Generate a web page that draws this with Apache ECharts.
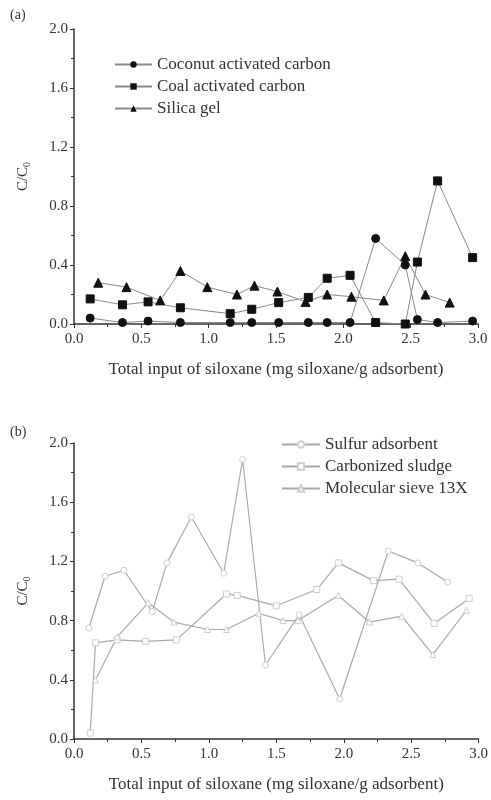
<!DOCTYPE html>
<html>
<head>
<meta charset="utf-8">
<script src="https://cdn.jsdelivr.net/npm/echarts@6/dist/echarts.min.js"></script>
<style>
  html, body { margin: 0; padding: 0; background: #fff; }
  #chart { width: 491px; height: 800px; }
</style>
</head>
<body>
<div id="chart"></div>
<script>
// panel (a)
const coconutX = [0.12, 0.36, 0.55, 0.79, 1.16, 1.32, 1.52, 1.74, 1.88, 2.05, 2.24, 2.46, 2.55, 2.70, 2.96];
const coconutY = [0.04, 0.01, 0.02, 0.01, 0.01, 0.01, 0.01, 0.01, 0.01, 0.01, 0.58, 0.40, 0.03, 0.01, 0.02];
const coalX = [0.12, 0.36, 0.55, 0.79, 1.16, 1.32, 1.52, 1.74, 1.88, 2.05, 2.24, 2.46, 2.55, 2.70, 2.96];
const coalY = [0.17, 0.13, 0.15, 0.11, 0.07, 0.10, 0.145, 0.18, 0.31, 0.33, 0.01, 0.0, 0.42, 0.97, 0.45];
const silicaX = [0.18, 0.39, 0.64, 0.79, 0.99, 1.21, 1.34, 1.51, 1.72, 1.88, 2.06, 2.30, 2.46, 2.61, 2.79];
const silicaY = [0.28, 0.25, 0.16, 0.36, 0.25, 0.20, 0.26, 0.22, 0.15, 0.20, 0.185, 0.16, 0.46, 0.20, 0.145];

// panel (b)
const sulfurX = [0.11, 0.23, 0.37, 0.58, 0.69, 0.87, 1.11, 1.25, 1.42, 1.67, 1.97, 2.33, 2.55, 2.77];
const sulfurY = [0.75, 1.10, 1.14, 0.86, 1.19, 1.50, 1.12, 1.89, 0.50, 0.84, 0.27, 1.27, 1.19, 1.06];
const sludgeX = [0.12, 0.16, 0.32, 0.53, 0.76, 1.13, 1.21, 1.50, 1.80, 1.96, 2.22, 2.41, 2.67, 2.93];
const sludgeY = [0.04, 0.65, 0.67, 0.66, 0.67, 0.98, 0.97, 0.90, 1.01, 1.19, 1.07, 1.08, 0.78, 0.95];
const sieveX = [0.16, 0.32, 0.55, 0.74, 0.99, 1.13, 1.37, 1.55, 1.66, 1.96, 2.19, 2.43, 2.66, 2.91];
const sieveY = [0.40, 0.69, 0.92, 0.79, 0.74, 0.74, 0.85, 0.80, 0.80, 0.97, 0.79, 0.83, 0.57, 0.87];

const namesA = ['Coconut activated carbon', 'Coal activated carbon', 'Silica gel'];
const namesB = ['Sulfur adsorbent', 'Carbonized sludge', 'Molecular sieve 13X'];
const xTitle = 'Total input of siloxane (mg siloxane/g adsorbent)';

const FONT = 'Liberation Serif';
const myChart = echarts.init(document.getElementById('chart'));

function pairs(xs, ys) {
  return xs.map((x, i) => [x, ys[i]]);
}

function makeX(gridIndex) {
  return {
    type: 'value', gridIndex: gridIndex, min: 0, max: 3, interval: 0.5,
    name: xTitle, nameLocation: 'middle', nameGap: 37,
    nameTextStyle: { fontFamily: FONT, fontSize: 17, color: '#333' },
    axisLine: { lineStyle: { color: '#333', width: 1.5 } },
    axisTick: { length: 4, lineStyle: { color: '#333' } },
    minorTick: { show: true, splitNumber: 2, length: 3, lineStyle: { color: '#333' } },
    axisLabel: { fontFamily: FONT, fontSize: 15, color: '#333', margin: 8, formatter: v => v.toFixed(1) },
    splitLine: { show: false }
  };
}

function makeY(gridIndex) {
  return {
    type: 'value', gridIndex: gridIndex, min: 0, max: 2, interval: 0.4,
    name: '{c|C/C}{s|0}', nameLocation: 'middle', nameGap: 42, nameRotate: 90,
    nameTextStyle: {
      rich: {
        c: { fontFamily: FONT, fontSize: 15, color: '#333' },
        s: { fontFamily: FONT, fontSize: 10, color: '#333', verticalAlign: 'bottom', padding: [7, 0, 0, 0] }
      }
    },
    axisLine: { show: true, lineStyle: { color: '#333', width: 1.5 } },
    axisTick: { length: 4, lineStyle: { color: '#333' } },
    minorTick: { show: true, splitNumber: 2, length: 3, lineStyle: { color: '#333' } },
    axisLabel: { fontFamily: FONT, fontSize: 15, color: '#333', margin: 6, formatter: v => v.toFixed(1) },
    splitLine: { show: false }
  };
}

function seriesA(name, xs, ys, symbol) {
  return {
    name: name, type: 'line', xAxisIndex: 0, yAxisIndex: 0,
    data: pairs(xs, ys), symbol: symbol, symbolSize: symbol === 'triangle' ? 9 : 8,
    lineStyle: { color: '#8a8a8a', width: 1 },
    itemStyle: { color: '#111', borderColor: '#111' }
  };
}

function seriesB(name, xs, ys, symbol) {
  return {
    name: name, type: 'line', xAxisIndex: 1, yAxisIndex: 1,
    data: pairs(xs, ys), symbol: symbol, symbolSize: 6,
    lineStyle: { color: '#aaa', width: 1.2 },
    itemStyle: { color: '#fff', borderColor: '#cfcfcf', borderWidth: 1 }
  };
}

const option = {
  backgroundColor: '#fff',
  animation: false,
  textStyle: { fontFamily: FONT },
  graphic: [
    { type: 'text', left: 10, top: 8, style: { text: '(a)', font: '14px "Liberation Serif"', fill: '#333' } },
    { type: 'text', left: 10, top: 425, style: { text: '(b)', font: '14px "Liberation Serif"', fill: '#333' } }
  ],
  legend: [
    {
      data: namesA, orient: 'vertical', left: 109, top: 51, itemGap: 5,
      itemWidth: 37, itemHeight: 8,
      textStyle: { fontFamily: FONT, fontSize: 17, color: '#333' }
    },
    {
      data: namesB, orient: 'vertical', left: 276, top: 431, itemGap: 5,
      itemWidth: 38, itemHeight: 8,
      textStyle: { fontFamily: FONT, fontSize: 17, color: '#333' }
    }
  ],
  grid: [
    { left: 74, top: 29, width: 404, height: 295 },
    { left: 74, top: 443, width: 405, height: 296 }
  ],
  xAxis: [makeX(0), makeX(1)],
  yAxis: [makeY(0), makeY(1)],
  series: [
    seriesA(namesA[0], coconutX, coconutY, 'circle'),
    seriesA(namesA[1], coalX, coalY, 'rect'),
    seriesA(namesA[2], silicaX, silicaY, 'triangle'),
    seriesB(namesB[0], sulfurX, sulfurY, 'circle'),
    seriesB(namesB[1], sludgeX, sludgeY, 'rect'),
    seriesB(namesB[2], sieveX, sieveY, 'triangle')
  ]
};

myChart.setOption(option);

window.addEventListener('resize', function() {
  myChart.resize();
});
</script>
</body>
</html>
